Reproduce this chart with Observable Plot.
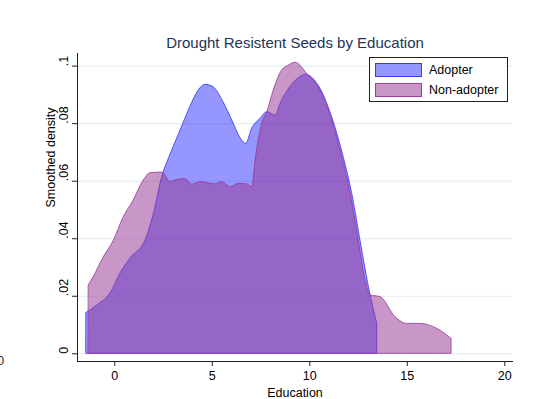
<!DOCTYPE html>
<html>
<head>
<meta charset="utf-8">
<script src="https://cdn.jsdelivr.net/npm/d3@7"></script>
<script src="https://cdn.jsdelivr.net/npm/@observablehq/plot@0.6"></script>
<style>
  body { margin: 0; background: #fff; font-family: "Liberation Sans", Arial, sans-serif; }
  #wrap { position: relative; width: 544px; height: 399px; overflow: hidden; background: #fff; }
  #wrap svg { position: absolute; left: 0; top: 0; }
  .title { position: absolute; left: 0; width: 590px; top: 34px; text-align: center; font-size: 15px; color: #243457; white-space: nowrap; }
  .legend { position: absolute; left: 369px; top: 57px; width: 137px; height: 43px; border: 1px solid #222; background: #fff; }
  .sw { position: absolute; left: 5px; width: 45px; height: 12px; }
  .lab { position: absolute; left: 59px; font-size: 12.5px; color: #000; line-height: 14px; }
  .edge0 { position: absolute; left: -3px; top: 353px; font-size: 13px; color: #333; }
</style>
</head>
<body>
<div id="wrap"></div>
<script>
// Kernel density estimates of years of education, by adoption status
const adopterEdu = [-1.45, -0.9, -0.22, 0.29, 0.8, 1.57, 2.0, 2.43, 2.86, 3.37, 3.88, 4.3, 4.65, 5.06, 5.57, 6.09, 6.45, 6.74, 7.04, 7.47, 7.82, 8.24, 8.5, 9.0, 9.52, 9.78, 10.55, 11.2, 11.74, 12.17, 12.6, 13.03, 13.46];
const adopterDensity = [0.0142, 0.0168, 0.0210, 0.0279, 0.0331, 0.0393, 0.0486, 0.0614, 0.0693, 0.0776, 0.0859, 0.0915, 0.0935, 0.0927, 0.0875, 0.0801, 0.0749, 0.0730, 0.0782, 0.0817, 0.0840, 0.0828, 0.0869, 0.0927, 0.0962, 0.0970, 0.0921, 0.0811, 0.0683, 0.0558, 0.0393, 0.0232, 0.0104];

const nonAdopterEdu = [-1.33, -1.08, -0.56, -0.05, 0.46, 0.97, 1.49, 1.83, 2.43, 2.86, 3.2, 3.63, 3.97, 4.4, 5.16, 5.5, 5.93, 6.36, 6.79, 7.05, 7.22, 7.56, 7.82, 8.15, 8.58, 8.9, 9.27, 9.87, 10.55, 11.15, 11.66, 12.09, 12.51, 12.86, 13.11, 13.63, 14.4, 14.99, 15.68, 16.53, 17.27];
const nonAdopterDensity = [0.0238, 0.0267, 0.0336, 0.0393, 0.0475, 0.0533, 0.0603, 0.0628, 0.0630, 0.0597, 0.0605, 0.0607, 0.0588, 0.0597, 0.0589, 0.0597, 0.0579, 0.0591, 0.0589, 0.0579, 0.0672, 0.0800, 0.0840, 0.0915, 0.0985, 0.1001, 0.1012, 0.0973, 0.0915, 0.0811, 0.0683, 0.0557, 0.0393, 0.0254, 0.0203, 0.0197, 0.0127, 0.0104, 0.0104, 0.0087, 0.0052];

const xTicks = [0, 5, 10, 15, 20];
const yTicks = [0, 0.02, 0.04, 0.06, 0.08, 0.1];
const yTickLabels = ["0", ".02", ".04", ".06", ".08", ".1"];
const seriesNames = ["Adopter", "Non-adopter"];
const titleText = "Drought Resistent Seeds by Education";

const adopter = adopterEdu.map((e, i) => ({edu: e, density: adopterDensity[i]}));
const nonAdopter = nonAdopterEdu.map((e, i) => ({edu: e, density: nonAdopterDensity[i]}));
const yLabelRows = yTicks.map((v, i) => ({v, t: yTickLabels[i]}));

const blueFill = "rgb(0,0,255)";
const purpleFill = "rgb(150,55,150)";

const chart = Plot.plot({
  width: 544,
  height: 399,
  marginLeft: 77,
  marginRight: 32,
  marginTop: 53,
  marginBottom: 38,
  style: {fontFamily: '"Liberation Sans", Arial, sans-serif', fontSize: "12.5px", color: "#000", background: "transparent"},
  x: {domain: [-1.913, 20.395]},
  y: {domain: [-0.00268, 0.1044]},
  marks: [
    Plot.ruleY(yTicks, {stroke: "#e3ebee", strokeWidth: 1}),
    Plot.areaY(adopter, {x: "edu", y: "density", curve: "monotone-x",
      fill: blueFill, fillOpacity: 0.41, stroke: "rgb(40,40,255)", strokeOpacity: 0.75, strokeWidth: 1}),
    Plot.areaY(nonAdopter, {x: "edu", y: "density", curve: "monotone-x",
      fill: purpleFill, fillOpacity: 0.52, stroke: purpleFill, strokeOpacity: 0.8, strokeWidth: 1}),
    Plot.frame({anchor: "left", stroke: "#222"}),
    Plot.frame({anchor: "bottom", stroke: "#222"}),
    Plot.axisX({ticks: xTicks, tickSize: 5, tickPadding: 5, label: null, stroke: "#222"}),
    Plot.axisY({ticks: yTicks, tickSize: 5, tickFormat: () => "", label: null, stroke: "#222"}),
    Plot.text(yLabelRows, {y: "v", text: "t", frameAnchor: "left", dx: -14, rotate: -90, fontSize: 12.5}),
    Plot.text(["Smoothed density"], {text: d => d, frameAnchor: "left", dx: -27, rotate: -90, fontSize: 12.5}),
    Plot.text(["Education"], {text: d => d, frameAnchor: "bottom", dy: 35, fontSize: 12.5})
  ]
});

const wrap = document.getElementById("wrap");
wrap.appendChild(chart);

const title = document.createElement("div");
title.className = "title";
title.textContent = titleText;
wrap.appendChild(title);

const legend = document.createElement("div");
legend.className = "legend";
const swatchStyles = [
  {bg: "rgba(0,0,255,0.41)", border: "rgba(40,40,255,0.85)"},
  {bg: "rgba(150,55,150,0.52)", border: "rgba(150,55,150,0.9)"}
];
seriesNames.forEach((name, i) => {
  const sw = document.createElement("div");
  sw.className = "sw";
  sw.style.top = (5 + i * 20) + "px";
  sw.style.background = swatchStyles[i].bg;
  sw.style.border = "1px solid " + swatchStyles[i].border;
  legend.appendChild(sw);
  const lab = document.createElement("div");
  lab.className = "lab";
  lab.style.top = (5 + i * 20) + "px";
  lab.textContent = name;
  legend.appendChild(lab);
});
wrap.appendChild(legend);

const edge = document.createElement("div");
edge.className = "edge0";
edge.textContent = "0";
wrap.appendChild(edge);
</script>
</body>
</html>
